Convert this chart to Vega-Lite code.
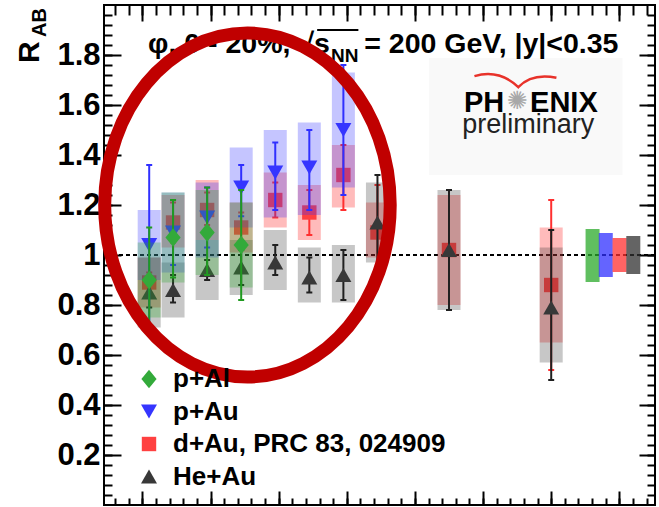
{
  "$schema": "https://vega.github.io/schema/vega-lite/v6.json",
  "width": 551,
  "height": 500,
  "autosize": "none",
  "padding": {"left": 104, "top": 5, "right": 4, "bottom": 2},
  "background": "white",
  "config": {
    "view": {"stroke": "black", "strokeWidth": 2},
    "axis": {"grid": false, "domain": false, "title": null, "tickColor": "black", "tickWidth": 2},
    "font": "Liberation Sans"
  },
  "datasets": {
    "pts": [
      {"x": 1.1, "s": "d+Au, PRC 83, 024909", "v": 0.89, "elo": 0.85, "ehi": 0.93, "slo": 0.79, "shi": 0.99},
      {"x": 1.1, "s": "He+Au", "v": 0.85, "elo": 0.79, "ehi": 0.91, "slo": 0.71, "shi": 0.99},
      {"x": 1.1, "s": "p+Au", "v": 1.04, "elo": 0.72, "ehi": 1.36, "slo": 0.90, "shi": 1.18},
      {"x": 1.1, "s": "p+Al", "v": 0.90, "elo": 0.69, "ehi": 1.11, "slo": 0.75, "shi": 1.05},
      {"x": 1.45, "s": "d+Au, PRC 83, 024909", "v": 1.13, "elo": 1.05, "ehi": 1.21, "slo": 1.03, "shi": 1.24},
      {"x": 1.45, "s": "He+Au", "v": 0.86, "elo": 0.81, "ehi": 0.92, "slo": 0.75, "shi": 0.97},
      {"x": 1.45, "s": "p+Au", "v": 1.09, "elo": 0.96, "ehi": 1.22, "slo": 0.93, "shi": 1.25},
      {"x": 1.45, "s": "p+Al", "v": 1.07, "elo": 0.91, "ehi": 1.22, "slo": 0.89, "shi": 1.25},
      {"x": 1.95, "s": "d+Au, PRC 83, 024909", "v": 1.18, "elo": 1.12, "ehi": 1.25, "slo": 1.06, "shi": 1.30},
      {"x": 1.95, "s": "He+Au", "v": 0.94, "elo": 0.90, "ehi": 0.98, "slo": 0.82, "shi": 1.06},
      {"x": 1.95, "s": "p+Au", "v": 1.15, "elo": 1.03, "ehi": 1.27, "slo": 0.99, "shi": 1.29},
      {"x": 1.95, "s": "p+Al", "v": 1.09, "elo": 0.92, "ehi": 1.27, "slo": 0.92, "shi": 1.26},
      {"x": 2.45, "s": "d+Au, PRC 83, 024909", "v": 1.11, "elo": 1.05, "ehi": 1.17, "slo": 1.01, "shi": 1.21},
      {"x": 2.45, "s": "He+Au", "v": 0.95, "elo": 0.88, "ehi": 1.02, "slo": 0.84, "shi": 1.06},
      {"x": 2.45, "s": "p+Au", "v": 1.27, "elo": 1.155, "ehi": 1.36, "slo": 1.11, "shi": 1.43},
      {"x": 2.45, "s": "p+Al", "v": 1.04, "elo": 0.82, "ehi": 1.26, "slo": 0.87, "shi": 1.21},
      {"x": 2.95, "s": "d+Au, PRC 83, 024909", "v": 1.22, "elo": 1.15, "ehi": 1.29, "slo": 1.11, "shi": 1.33},
      {"x": 2.95, "s": "He+Au", "v": 0.97, "elo": 0.92, "ehi": 1.04, "slo": 0.86, "shi": 1.10},
      {"x": 2.95, "s": "p+Au", "v": 1.33, "elo": 1.18, "ehi": 1.45, "slo": 1.15, "shi": 1.50},
      {"x": 3.45, "s": "d+Au, PRC 83, 024909", "v": 1.17, "elo": 1.08, "ehi": 1.26, "slo": 1.06, "shi": 1.28},
      {"x": 3.45, "s": "He+Au", "v": 0.91, "elo": 0.85, "ehi": 0.99, "slo": 0.81, "shi": 1.03},
      {"x": 3.45, "s": "p+Au", "v": 1.35, "elo": 1.18, "ehi": 1.50, "slo": 1.16, "shi": 1.53},
      {"x": 3.95, "s": "d+Au, PRC 83, 024909", "v": 1.32, "elo": 1.18, "ehi": 1.44, "slo": 1.19, "shi": 1.44},
      {"x": 3.95, "s": "He+Au", "v": 0.92, "elo": 0.82, "ehi": 1.02, "slo": 0.81, "shi": 1.04},
      {"x": 3.95, "s": "p+Au", "v": 1.50, "elo": 1.24, "ehi": 1.76, "slo": 1.27, "shi": 1.73},
      {"x": 4.45, "s": "d+Au, PRC 83, 024909", "v": 1.09, "elo": 0.90, "ehi": 1.28, "slo": 0.99, "shi": 1.21},
      {"x": 4.45, "s": "He+Au", "v": 1.13, "elo": 0.94, "ehi": 1.32, "slo": 0.97, "shi": 1.29},
      {"x": 5.5, "s": "d+Au, PRC 83, 024909", "v": 1.02, "elo": 0.78, "ehi": 1.26, "slo": 0.80, "shi": 1.24},
      {"x": 5.5, "s": "He+Au", "v": 1.02, "elo": 0.78, "ehi": 1.26, "slo": 0.78, "shi": 1.26},
      {"x": 7.0, "s": "d+Au, PRC 83, 024909", "v": 0.88, "elo": 0.54, "ehi": 1.22, "slo": 0.65, "shi": 1.11},
      {"x": 7.0, "s": "He+Au", "v": 0.79, "elo": 0.50, "ehi": 1.10, "slo": 0.57, "shi": 1.03}
    ],
    "norm": [
      {"s": "p+Al", "x": 7.607, "lo": 0.892, "hi": 1.104},
      {"s": "p+Au", "x": 7.801, "lo": 0.912, "hi": 1.088},
      {"s": "d+Au, PRC 83, 024909", "x": 8.003, "lo": 0.932, "hi": 1.068},
      {"s": "He+Au", "x": 8.205, "lo": 0.924, "hi": 1.076}
    ]
  },
  "layer": [
    {
      "data": {"values": [{}]},
      "mark": {"type": "rect", "color": "#f9f9f9", "opacity": 1},
      "encoding": {
        "x": {"datum": 5.207, "type": "quantitative", "scale": {"domain": [0.51, 8.45], "nice": false, "zero": false},
              "axis": {"orient": "top", "values": [1, 2, 3, 4, 5, 6, 7, 8], "tickSize": -16, "labels": false}},
        "x2": {"datum": 8.046},
        "y": {"datum": 1.788, "type": "quantitative", "scale": {"domain": [0, 2], "nice": false, "zero": false},
              "axis": {"orient": "right", "values": [0.04,0.08,0.12,0.16,0.2,0.24,0.28,0.32,0.36,0.4,0.44,0.48,0.52,0.56,0.6,0.64,0.68,0.72,0.76,0.8,0.84,0.88,0.92,0.96,1,1.04,1.08,1.12,1.16,1.2,1.24,1.28,1.32,1.36,1.4,1.44,1.48,1.52,1.56,1.6,1.64,1.68,1.72,1.76,1.8,1.84,1.88,1.92,1.96], "tickSize": -8, "labels": false}},
        "y2": {"datum": 1.32}
      }
    },
    {
      "data": {"values": [{}]},
      "mark": {"type": "rule", "color": "black", "strokeWidth": 2, "strokeDash": [4, 3]},
      "encoding": {
        "y": {"datum": 1, "type": "quantitative", "scale": {"domain": [0, 2], "nice": false, "zero": false},
              "axis": {"orient": "left", "values": [0.2, 0.4, 0.6, 0.8, 1, 1.2, 1.4, 1.6, 1.8], "tickSize": -17, "format": ".1~f",
                       "labelFont": "Liberation Sans", "labelFontSize": 31, "labelFontWeight": "bold", "labelColor": "black",
                       "labelPadding": 21, "labelAlign": "right", "labelBaseline": "middle"}}
      }
    },
    {
      "data": {"name": "pts"},
      "transform": [{"filter": {"field": "s", "equal": "d+Au, PRC 83, 024909"}}],
      "layer": [
        {"mark": {"type": "bar", "orient": "vertical", "width": 23, "color": "#ff3030", "opacity": 0.33},
         "encoding": {"x": {"field": "x", "type": "quantitative", "axis": null}, "y": {"field": "slo", "type": "quantitative", "axis": null}, "y2": {"field": "shi"}}},
        {"mark": {"type": "rule", "color": "#ff3030", "strokeWidth": 2},
         "encoding": {"x": {"field": "x", "type": "quantitative", "axis": null}, "y": {"field": "elo", "type": "quantitative", "axis": null}, "y2": {"field": "ehi"}}},
        {"mark": {"type": "tick", "orient": "horizontal", "size": 6, "thickness": 2, "color": "#ff3030", "opacity": 1},
         "encoding": {"x": {"field": "x", "type": "quantitative", "axis": null}, "y": {"field": "elo", "type": "quantitative", "axis": null}}},
        {"mark": {"type": "tick", "orient": "horizontal", "size": 6, "thickness": 2, "color": "#ff3030", "opacity": 1},
         "encoding": {"x": {"field": "x", "type": "quantitative", "axis": null}, "y": {"field": "ehi", "type": "quantitative", "axis": null}}},
        {"mark": {"type": "point", "filled": true, "size": 256, "opacity": 1, "strokeWidth": 0},
         "encoding": {
           "x": {"field": "x", "type": "quantitative", "axis": null},
           "y": {"field": "v", "type": "quantitative", "axis": null},
           "color": {"field": "s", "type": "nominal",
                     "scale": {"domain": ["p+Al", "p+Au", "d+Au, PRC 83, 024909", "He+Au"], "range": ["#33aa3a", "#3535ff", "#ff4040", "#383838"]},
                     "legend": {"title": null, "orient": "bottom-left", "offset": 15, "padding": 0, "symbolOffset": 17, "labelOffset": 11, "rowPadding": 6.5, "labelFont": "Liberation Sans", "labelFontSize": 26, "labelFontWeight": "bold", "labelColor": "black", "symbolSize": 256, "symbolStrokeWidth": 0, "symbolOpacity": 1, "labelLimit": 500}},
           "shape": {"field": "s", "type": "nominal",
                     "scale": {"domain": ["p+Al", "p+Au", "d+Au, PRC 83, 024909", "He+Au"], "range": ["M -0.95 0 L 0 -1.15 L 0.95 0 L 0 1.15 Z", "M -1 -0.87 L 1 -0.87 L 0 0.87 Z", "M -0.9 -0.9 L 0.9 -0.9 L 0.9 0.9 L -0.9 0.9 Z", "M -1 0.87 L 1 0.87 L 0 -0.87 Z"]},
                     "legend": {"title": null, "orient": "bottom-left", "offset": 15, "padding": 0, "symbolOffset": 17, "labelOffset": 11, "rowPadding": 6.5, "labelFont": "Liberation Sans", "labelFontSize": 26, "labelFontWeight": "bold", "labelColor": "black", "symbolSize": 256, "symbolStrokeWidth": 0, "symbolOpacity": 1, "labelLimit": 500}}
         }}
      ]
    },
    {
      "data": {"name": "pts"},
      "transform": [{"filter": {"field": "s", "equal": "He+Au"}}],
      "layer": [
        {"mark": {"type": "bar", "orient": "vertical", "width": 23, "color": "#303030", "opacity": 0.27},
         "encoding": {"x": {"field": "x", "type": "quantitative", "axis": null}, "y": {"field": "slo", "type": "quantitative", "axis": null}, "y2": {"field": "shi"}}},
        {"mark": {"type": "rule", "color": "#202020", "strokeWidth": 2},
         "encoding": {"x": {"field": "x", "type": "quantitative", "axis": null}, "y": {"field": "elo", "type": "quantitative", "axis": null}, "y2": {"field": "ehi"}}},
        {"mark": {"type": "tick", "orient": "horizontal", "size": 6, "thickness": 2, "color": "#202020", "opacity": 1},
         "encoding": {"x": {"field": "x", "type": "quantitative", "axis": null}, "y": {"field": "elo", "type": "quantitative", "axis": null}}},
        {"mark": {"type": "tick", "orient": "horizontal", "size": 6, "thickness": 2, "color": "#202020", "opacity": 1},
         "encoding": {"x": {"field": "x", "type": "quantitative", "axis": null}, "y": {"field": "ehi", "type": "quantitative", "axis": null}}},
        {"mark": {"type": "point", "filled": true, "size": 256, "opacity": 1, "strokeWidth": 0},
         "encoding": {
           "x": {"field": "x", "type": "quantitative", "axis": null},
           "y": {"field": "v", "type": "quantitative", "axis": null},
           "color": {"field": "s", "type": "nominal",
                     "scale": {"domain": ["p+Al", "p+Au", "d+Au, PRC 83, 024909", "He+Au"], "range": ["#33aa3a", "#3535ff", "#ff4040", "#383838"]},
                     "legend": {"title": null, "orient": "bottom-left", "offset": 15, "padding": 0, "symbolOffset": 17, "labelOffset": 11, "rowPadding": 6.5, "labelFont": "Liberation Sans", "labelFontSize": 26, "labelFontWeight": "bold", "labelColor": "black", "symbolSize": 256, "symbolStrokeWidth": 0, "symbolOpacity": 1, "labelLimit": 500}},
           "shape": {"field": "s", "type": "nominal",
                     "scale": {"domain": ["p+Al", "p+Au", "d+Au, PRC 83, 024909", "He+Au"], "range": ["M -0.95 0 L 0 -1.15 L 0.95 0 L 0 1.15 Z", "M -1 -0.87 L 1 -0.87 L 0 0.87 Z", "M -0.9 -0.9 L 0.9 -0.9 L 0.9 0.9 L -0.9 0.9 Z", "M -1 0.87 L 1 0.87 L 0 -0.87 Z"]},
                     "legend": {"title": null, "orient": "bottom-left", "offset": 15, "padding": 0, "symbolOffset": 17, "labelOffset": 11, "rowPadding": 6.5, "labelFont": "Liberation Sans", "labelFontSize": 26, "labelFontWeight": "bold", "labelColor": "black", "symbolSize": 256, "symbolStrokeWidth": 0, "symbolOpacity": 1, "labelLimit": 500}}
         }}
      ]
    },
    {
      "data": {"name": "pts"},
      "transform": [{"filter": {"field": "s", "equal": "p+Au"}}],
      "layer": [
        {"mark": {"type": "bar", "orient": "vertical", "width": 23, "color": "#3030ff", "opacity": 0.28},
         "encoding": {"x": {"field": "x", "type": "quantitative", "axis": null}, "y": {"field": "slo", "type": "quantitative", "axis": null}, "y2": {"field": "shi"}}},
        {"mark": {"type": "rule", "color": "#3030ff", "strokeWidth": 2},
         "encoding": {"x": {"field": "x", "type": "quantitative", "axis": null}, "y": {"field": "elo", "type": "quantitative", "axis": null}, "y2": {"field": "ehi"}}},
        {"mark": {"type": "tick", "orient": "horizontal", "size": 6, "thickness": 2, "color": "#3030ff", "opacity": 1},
         "encoding": {"x": {"field": "x", "type": "quantitative", "axis": null}, "y": {"field": "elo", "type": "quantitative", "axis": null}}},
        {"mark": {"type": "tick", "orient": "horizontal", "size": 6, "thickness": 2, "color": "#3030ff", "opacity": 1},
         "encoding": {"x": {"field": "x", "type": "quantitative", "axis": null}, "y": {"field": "ehi", "type": "quantitative", "axis": null}}},
        {"mark": {"type": "point", "filled": true, "size": 256, "opacity": 1, "strokeWidth": 0},
         "encoding": {
           "x": {"field": "x", "type": "quantitative", "axis": null},
           "y": {"field": "v", "type": "quantitative", "axis": null},
           "color": {"field": "s", "type": "nominal",
                     "scale": {"domain": ["p+Al", "p+Au", "d+Au, PRC 83, 024909", "He+Au"], "range": ["#33aa3a", "#3535ff", "#ff4040", "#383838"]},
                     "legend": {"title": null, "orient": "bottom-left", "offset": 15, "padding": 0, "symbolOffset": 17, "labelOffset": 11, "rowPadding": 6.5, "labelFont": "Liberation Sans", "labelFontSize": 26, "labelFontWeight": "bold", "labelColor": "black", "symbolSize": 256, "symbolStrokeWidth": 0, "symbolOpacity": 1, "labelLimit": 500}},
           "shape": {"field": "s", "type": "nominal",
                     "scale": {"domain": ["p+Al", "p+Au", "d+Au, PRC 83, 024909", "He+Au"], "range": ["M -0.95 0 L 0 -1.15 L 0.95 0 L 0 1.15 Z", "M -1 -0.87 L 1 -0.87 L 0 0.87 Z", "M -0.9 -0.9 L 0.9 -0.9 L 0.9 0.9 L -0.9 0.9 Z", "M -1 0.87 L 1 0.87 L 0 -0.87 Z"]},
                     "legend": {"title": null, "orient": "bottom-left", "offset": 15, "padding": 0, "symbolOffset": 17, "labelOffset": 11, "rowPadding": 6.5, "labelFont": "Liberation Sans", "labelFontSize": 26, "labelFontWeight": "bold", "labelColor": "black", "symbolSize": 256, "symbolStrokeWidth": 0, "symbolOpacity": 1, "labelLimit": 500}}
         }}
      ]
    },
    {
      "data": {"name": "pts"},
      "transform": [{"filter": {"field": "s", "equal": "p+Al"}}],
      "layer": [
        {"mark": {"type": "bar", "orient": "vertical", "width": 23, "color": "#2baa2b", "opacity": 0.3},
         "encoding": {"x": {"field": "x", "type": "quantitative", "axis": null}, "y": {"field": "slo", "type": "quantitative", "axis": null}, "y2": {"field": "shi"}}},
        {"mark": {"type": "rule", "color": "#209a20", "strokeWidth": 2},
         "encoding": {"x": {"field": "x", "type": "quantitative", "axis": null}, "y": {"field": "elo", "type": "quantitative", "axis": null}, "y2": {"field": "ehi"}}},
        {"mark": {"type": "tick", "orient": "horizontal", "size": 6, "thickness": 2, "color": "#209a20", "opacity": 1},
         "encoding": {"x": {"field": "x", "type": "quantitative", "axis": null}, "y": {"field": "elo", "type": "quantitative", "axis": null}}},
        {"mark": {"type": "tick", "orient": "horizontal", "size": 6, "thickness": 2, "color": "#209a20", "opacity": 1},
         "encoding": {"x": {"field": "x", "type": "quantitative", "axis": null}, "y": {"field": "ehi", "type": "quantitative", "axis": null}}},
        {"mark": {"type": "point", "filled": true, "size": 256, "opacity": 1, "strokeWidth": 0},
         "encoding": {
           "x": {"field": "x", "type": "quantitative", "axis": null},
           "y": {"field": "v", "type": "quantitative", "axis": null},
           "color": {"field": "s", "type": "nominal",
                     "scale": {"domain": ["p+Al", "p+Au", "d+Au, PRC 83, 024909", "He+Au"], "range": ["#33aa3a", "#3535ff", "#ff4040", "#383838"]},
                     "legend": {"title": null, "orient": "bottom-left", "offset": 15, "padding": 0, "symbolOffset": 17, "labelOffset": 11, "rowPadding": 6.5, "labelFont": "Liberation Sans", "labelFontSize": 26, "labelFontWeight": "bold", "labelColor": "black", "symbolSize": 256, "symbolStrokeWidth": 0, "symbolOpacity": 1, "labelLimit": 500}},
           "shape": {"field": "s", "type": "nominal",
                     "scale": {"domain": ["p+Al", "p+Au", "d+Au, PRC 83, 024909", "He+Au"], "range": ["M -0.95 0 L 0 -1.15 L 0.95 0 L 0 1.15 Z", "M -1 -0.87 L 1 -0.87 L 0 0.87 Z", "M -0.9 -0.9 L 0.9 -0.9 L 0.9 0.9 L -0.9 0.9 Z", "M -1 0.87 L 1 0.87 L 0 -0.87 Z"]},
                     "legend": {"title": null, "orient": "bottom-left", "offset": 15, "padding": 0, "symbolOffset": 17, "labelOffset": 11, "rowPadding": 6.5, "labelFont": "Liberation Sans", "labelFontSize": 26, "labelFontWeight": "bold", "labelColor": "black", "symbolSize": 256, "symbolStrokeWidth": 0, "symbolOpacity": 1, "labelLimit": 500}}
         }}
      ]
    },
    {
      "data": {"name": "norm"},
      "mark": {"type": "bar", "orient": "vertical", "width": 14, "opacity": 0.75},
      "encoding": {
        "x": {"field": "x", "type": "quantitative", "scale": {"domain": [0.51, 8.45], "nice": false, "zero": false},
              "axis": {"orient": "bottom", "values": [1, 2, 3, 4, 5, 6, 7, 8], "tickSize": -14, "labels": false}},
        "y": {"field": "lo", "type": "quantitative", "scale": {"domain": [0, 2], "nice": false, "zero": false},
              "axis": {"orient": "left", "values": [0.04,0.08,0.12,0.16,0.2,0.24,0.28,0.32,0.36,0.4,0.44,0.48,0.52,0.56,0.6,0.64,0.68,0.72,0.76,0.8,0.84,0.88,0.92,0.96,1,1.04,1.08,1.12,1.16,1.2,1.24,1.28,1.32,1.36,1.4,1.44,1.48,1.52,1.56,1.6,1.64,1.68,1.72,1.76,1.8,1.84,1.88,1.92,1.96], "tickSize": -8, "labels": false}},
        "y2": {"field": "hi"},
        "fill": {"field": "s", "type": "nominal", "legend": null,
                 "scale": {"domain": ["p+Al", "p+Au", "d+Au, PRC 83, 024909", "He+Au"], "range": ["#2baa2b", "#3030ff", "#ff3030", "#303030"]}}
      }
    },
    {
      "data": {"values": [{}]},
      "mark": {"type": "text", "text": "φ, 0 - 20%, √s", "align": "right", "baseline": "alphabetic", "font": "Liberation Sans", "fontSize": 28.5, "fontWeight": "bold", "color": "black"},
      "encoding": {"x": {"datum": 3.752, "type": "quantitative", "axis": null}, "y": {"datum": 1.808, "type": "quantitative", "axis": null}}
    },
    {
      "data": {"values": [{}]},
      "mark": {"type": "text", "text": "NN", "align": "left", "baseline": "alphabetic", "font": "Liberation Sans", "fontSize": 19, "fontWeight": "bold", "color": "black"},
      "encoding": {"x": {"datum": 3.767, "type": "quantitative", "axis": null}, "y": {"datum": 1.772, "type": "quantitative", "axis": null}}
    },
    {
      "data": {"values": [{}]},
      "mark": {"type": "text", "text": "= 200 GeV, |y|<0.35", "align": "left", "baseline": "alphabetic", "font": "Liberation Sans", "fontSize": 28.5, "fontWeight": "bold", "color": "black"},
      "encoding": {
        "x": {"datum": 4.256, "type": "quantitative",
              "axis": {"orient": "top", "values": [0.6,0.8,1,1.2,1.4,1.6,1.8,2,2.2,2.4,2.6,2.8,3,3.2,3.4,3.6,3.8,4,4.2,4.4,4.6,4.8,5,5.2,5.4,5.6,5.8,6,6.2,6.4,6.6,6.8,7,7.2,7.4,7.6,7.8,8,8.2,8.4], "tickSize": -10, "labels": false}},
        "y": {"datum": 1.808, "type": "quantitative", "axis": null}
      }
    },
    {
      "data": {"values": [{}]},
      "mark": {"type": "rule", "color": "black", "strokeWidth": 2},
      "encoding": {"x": {"datum": 3.565, "type": "quantitative", "axis": null}, "x2": {"datum": 4.17}, "y": {"datum": 1.9, "type": "quantitative", "axis": null}}
    },
    {
      "data": {"values": [{}]},
      "mark": {"type": "text", "text": "R", "angle": 270, "align": "left", "baseline": "alphabetic", "font": "Liberation Sans", "fontSize": 30, "fontWeight": "bold", "color": "black"},
      "encoding": {"x": {"datum": -0.513, "type": "quantitative", "axis": null}, "y": {"datum": 1.768, "type": "quantitative", "axis": null}}
    },
    {
      "data": {"values": [{}]},
      "mark": {"type": "text", "text": "AB", "angle": 270, "align": "left", "baseline": "alphabetic", "font": "Liberation Sans", "fontSize": 20, "fontWeight": "bold", "color": "black"},
      "encoding": {"x": {"datum": -0.412, "type": "quantitative", "axis": null}, "y": {"datum": 1.872, "type": "quantitative", "axis": null}}
    },
    {
      "data": {"values": [{}]},
      "mark": {"type": "text", "text": "PH", "align": "right", "baseline": "alphabetic", "font": "Liberation Sans", "fontSize": 29, "fontWeight": "bold", "color": "black"},
      "encoding": {"x": {"datum": 6.31, "type": "quantitative", "axis": null}, "y": {"datum": 1.572, "type": "quantitative", "axis": null}}
    },
    {
      "data": {"values": [{}]},
      "mark": {"type": "text", "text": "✺", "align": "center", "baseline": "middle", "font": "DejaVu Sans", "fontSize": 25, "color": "#a8a8a8"},
      "encoding": {"x": {"datum": 6.504, "type": "quantitative", "axis": null}, "y": {"datum": 1.616, "type": "quantitative", "axis": null}}
    },
    {
      "data": {"values": [{}]},
      "mark": {"type": "text", "text": "ENIX", "align": "left", "baseline": "alphabetic", "font": "Liberation Sans", "fontSize": 29, "fontWeight": "bold", "color": "black"},
      "encoding": {"x": {"datum": 6.69, "type": "quantitative", "axis": null}, "y": {"datum": 1.572, "type": "quantitative", "axis": null}}
    },
    {
      "data": {"values": [{}]},
      "mark": {"type": "text", "text": "preliminary", "align": "center", "baseline": "alphabetic", "font": "Liberation Sans", "fontSize": 27, "color": "#222222"},
      "encoding": {"x": {"datum": 6.663, "type": "quantitative", "axis": null}, "y": {"datum": 1.488, "type": "quantitative", "axis": null}}
    },
    {
      "data": {"values": [{}]},
      "mark": {"type": "point", "shape": "M -1 -0.12 Q -0.4 -0.3 0.07 0.15 Q 0.4 -0.2 1 -0.08", "size": 6724, "filled": false, "stroke": "#e8322a", "strokeWidth": 2.5, "opacity": 1},
      "encoding": {"x": {"datum": 6.475, "type": "quantitative", "axis": null}, "y": {"datum": 1.696, "type": "quantitative", "axis": null}}
    },
    {
      "data": {"values": [{}]},
      "mark": {"type": "point", "shape": "M 0.83 0 C 0.83 0.5523 0.4584 1 0 1 C -0.4584 1 -0.83 0.5523 -0.83 0 C -0.83 -0.5523 -0.4584 -1 0 -1 C 0.4584 -1 0.83 -0.5523 0.83 0 Z", "size": 118336, "filled": false, "stroke": "#c00000", "strokeWidth": 13, "opacity": 1},
      "encoding": {
        "x": {"datum": 2.542, "type": "quantitative",
              "axis": {"orient": "bottom", "values": [0.6,0.8,1,1.2,1.4,1.6,1.8,2,2.2,2.4,2.6,2.8,3,3.2,3.4,3.6,3.8,4,4.2,4.4,4.6,4.8,5,5.2,5.4,5.6,5.8,6,6.2,6.4,6.6,6.8,7,7.2,7.4,7.6,7.8,8,8.2,8.4], "tickSize": -7, "labels": false}},
        "y": {"datum": 1.2, "type": "quantitative",
              "axis": {"orient": "right", "values": [0.2, 0.4, 0.6, 0.8, 1, 1.2, 1.4, 1.6, 1.8], "tickSize": -16, "labels": false}}
      }
    }
  ],
  "resolve": {"axis": {"x": "independent", "y": "independent"}}
}
